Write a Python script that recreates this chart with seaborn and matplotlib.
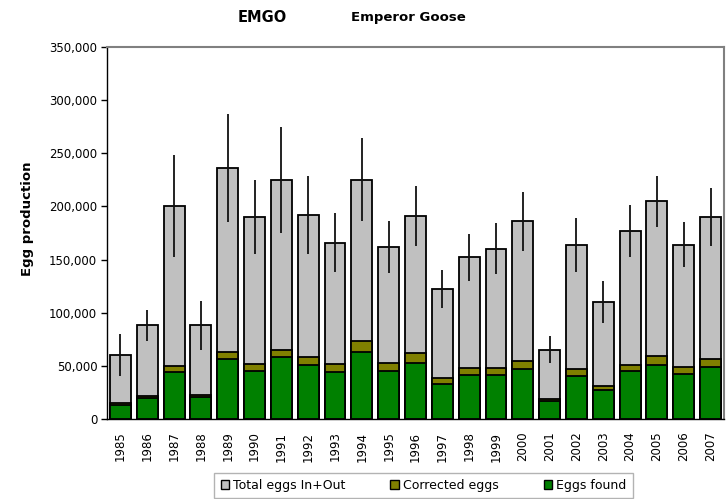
import matplotlib
matplotlib.use('Agg')
import matplotlib.pyplot as plt
import seaborn as sns
import pandas as pd
import numpy as np
from matplotlib.patches import Patch
from matplotlib.ticker import FuncFormatter, MultipleLocator

# ---- data ----
years = ['1985', '1986', '1987', '1988', '1989', '1990', '1991', '1992', '1993', '1994',
         '1995', '1996', '1997', '1998', '1999', '2000', '2001', '2002', '2003', '2004',
         '2005', '2006', '2007']
total_eggs = [60000, 88000, 200000, 88000, 236000, 190000, 225000, 192000, 166000, 225000,
              162000, 191000, 122000, 152000, 160000, 186000, 65000, 164000, 110000, 177000,
              205000, 164000, 190000]
corrected_eggs = [15000, 22000, 50000, 23000, 63000, 52000, 65000, 58000, 52000, 73000,
                  53000, 62000, 39000, 48000, 48000, 55000, 19000, 47000, 31000, 51000,
                  59000, 49000, 56500]
eggs_found = [13500, 20000, 44000, 20700, 56000, 45500, 58000, 50600, 44300, 63000,
              45500, 53000, 33300, 41000, 41400, 47000, 16700, 40200, 27000, 45000,
              51000, 42700, 49000]
total_err = [20000, 15000, 48000, 23000, 51000, 35000, 50000, 37000, 27500, 39000,
             24500, 28000, 18000, 22500, 24000, 28000, 12700, 25300, 20000, 24500,
             24000, 21000, 27000]

series_labels = ['Total eggs In+Out', 'Corrected eggs', 'Eggs found']
series_colors = ['#C0C0C0', '#808000', '#008000']

df = pd.DataFrame({'Year': years, 'Total': total_eggs,
                   'Corrected': corrected_eggs, 'Found': eggs_found,
                   'Err': total_err})

sns.set_style('white')
plt.rcParams['font.family'] = ['DejaVu Sans']
plt.rcParams['text.color'] = 'black'
plt.rcParams['axes.labelcolor'] = 'black'
plt.rcParams['xtick.color'] = 'black'
plt.rcParams['ytick.color'] = 'black'

W, H = 727, 499
fig = plt.figure(figsize=(W / 100, H / 100), dpi=100)
ax = fig.add_axes([107 / W, 1 - 419 / H, 617 / W, 372 / H])

for col, color in zip(['Total', 'Corrected', 'Found'], series_colors):
    sns.barplot(data=df, x='Year', y=col, color=color, saturation=1,
                edgecolor='black', linewidth=1.3, width=0.78,
                errorbar=None, ax=ax)

xpos = np.arange(len(years))
ax.errorbar(xpos, df['Total'], yerr=df['Err'], fmt='none', ecolor='#111111',
            elinewidth=1.3, capsize=0, zorder=5)

ax.set_ylim(0, 350000)
ax.set_xlim(-0.5, len(years) - 0.5)
ax.yaxis.set_major_locator(MultipleLocator(50000))
ax.yaxis.set_major_formatter(FuncFormatter(lambda v, p: f'{int(v):,}'))

ax.set_xticks(xpos)
ax.set_xticklabels(years, rotation=90)
ax.set_xticks(np.arange(-0.5, len(years), 1.0), minor=True)
ax.tick_params(axis='x', which='major', length=0, pad=9, labelsize=8.5, labelcolor='black')
ax.tick_params(axis='x', which='minor', length=4, width=1, color='black', direction='out')
ax.tick_params(axis='y', which='major', length=4, width=1, color='black',
               direction='out', pad=3, labelsize=8.5, left=True, labelcolor='black')
ax.set_xlabel('')
ax.set_ylabel('Egg production', fontsize=9.5, fontweight='bold', color='black')
ax.yaxis.set_label_coords((34 - 107) / 617, 0.538)

for s in ['left', 'bottom']:
    ax.spines[s].set_color('black')
    ax.spines[s].set_linewidth(1.0)
for s in ['top', 'right']:
    ax.spines[s].set_color('#808080')
    ax.spines[s].set_linewidth(1.5)

fig.text(262 / W, 1 - 17 / H, 'EMGO', ha='center', va='center',
         fontsize=10.5, fontweight='bold', color='black')
fig.text(408 / W, 1 - 17 / H, 'Emperor Goose', ha='center', va='center',
         fontsize=9.5, fontweight='bold', color='black')

handles = [Patch(facecolor=c, edgecolor='black', linewidth=1.0, label=l)
           for c, l in zip(series_colors, series_labels)]
leg = fig.legend(handles=handles, loc='lower center', bbox_to_anchor=(423.5 / W, 1 / H),
                 ncol=3, fontsize=9, frameon=True, fancybox=False,
                 edgecolor='#a0a0a0', handlelength=0.7, handleheight=0.7,
                 handletextpad=0.3, columnspacing=3.6, borderpad=0.5,
                 borderaxespad=0)
leg.get_frame().set_linewidth(1.0)
for t in leg.get_texts():
    t.set_color('black')

fig.savefig('out.png', dpi=100)
